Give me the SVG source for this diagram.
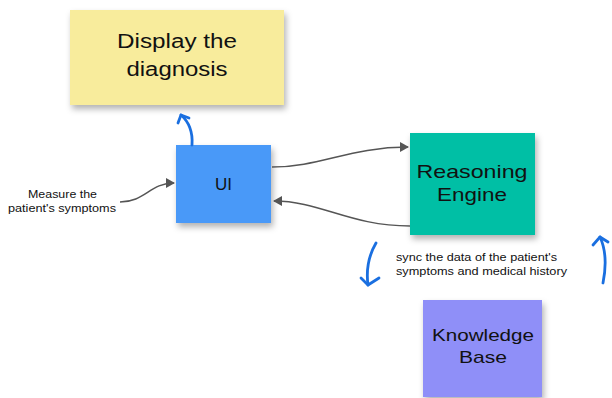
<svg xmlns="http://www.w3.org/2000/svg" width="612" height="398" viewBox="0 0 612 398">
<defs>
<filter id="sh" x="-10%" y="-10%" width="130%" height="140%">
<feDropShadow dx="2" dy="4" stdDeviation="3" flood-color="#000" flood-opacity="0.3"/>
</filter>
<marker id="ga" markerWidth="10" markerHeight="10" refX="8" refY="5" orient="auto" markerUnits="userSpaceOnUse">
<path d="M0,0 L9,5 L0,10 z" fill="#555"/>
</marker>
</defs>
<style>
text{font-family:"Liberation Sans",Arial,sans-serif;fill:#111;text-anchor:middle}
.st{text-anchor:start}
.gl{fill:none;stroke:#555;stroke-width:1.5}
.bl{fill:none;stroke:#1a6fe0;stroke-width:2.8;stroke-linecap:round;stroke-linejoin:round}
</style>
<rect width="612" height="398" fill="#fff"/>
<g id="display">
<rect x="70" y="10" width="214" height="95" fill="#f8ec9c" filter="url(#sh)"/>
<text x="177" y="48" font-size="20" textLength="120" lengthAdjust="spacingAndGlyphs">Display the</text>
<text x="177" y="76" font-size="20" textLength="101" lengthAdjust="spacingAndGlyphs">diagnosis</text>
</g>
<g id="ui">
<rect x="176" y="145" width="95" height="78" fill="#4a99f8" filter="url(#sh)"/>
<text x="223.5" y="190" font-size="16" fill="#222" textLength="17" lengthAdjust="spacingAndGlyphs">UI</text>
</g>
<g id="reasoning">
<rect x="410" y="133" width="125" height="102" fill="#00bfa5" filter="url(#sh)"/>
<text x="472" y="178" font-size="19" textLength="111" lengthAdjust="spacingAndGlyphs">Reasoning</text>
<text x="472" y="201" font-size="19" textLength="70" lengthAdjust="spacingAndGlyphs">Engine</text>
</g>
<g id="knowledge">
<rect x="423" y="300" width="119" height="97" fill="#8f8ff8" filter="url(#sh)"/>
<text x="483" y="341" font-size="17" textLength="102" lengthAdjust="spacingAndGlyphs">Knowledge</text>
<text x="483" y="363" font-size="17" textLength="48" lengthAdjust="spacingAndGlyphs">Base</text>
</g>
<g id="labels">
<text x="62.5" y="198" font-size="10.5" fill="#222" textLength="69" lengthAdjust="spacingAndGlyphs">Measure the</text>
<text x="62" y="212" font-size="10.5" fill="#222" textLength="108" lengthAdjust="spacingAndGlyphs">patient's symptoms</text>
<text class="st" x="396" y="261" font-size="10.5" fill="#222" textLength="161" lengthAdjust="spacingAndGlyphs">sync the data of the patient's</text>
<text class="st" x="396" y="275" font-size="10.5" fill="#222" textLength="171" lengthAdjust="spacingAndGlyphs">symptoms and medical history</text>
</g>
<g id="connectors">
<path class="gl" d="M120,202 C145,202 150,183 174,183" marker-end="url(#ga)"/>
<path class="gl" d="M272,167 C320,167 350,147 408,147" marker-end="url(#ga)"/>
<path class="gl" d="M410,226 C350,226 320,201 274,201" marker-end="url(#ga)"/>
<path class="bl" d="M192,145 C193,131 189,122 181,115"/>
<path class="bl" d="M178,123 L181,115 L189,118"/>
<path class="bl" d="M376,243 C369,255 366,270 368,285"/>
<path class="bl" d="M361,278 L368,285 L379,278"/>
<path class="bl" d="M603,283 C606,268 606,250 600,237"/>
<path class="bl" d="M593,245 L600,237 L608,242"/>
</g>
</svg>
